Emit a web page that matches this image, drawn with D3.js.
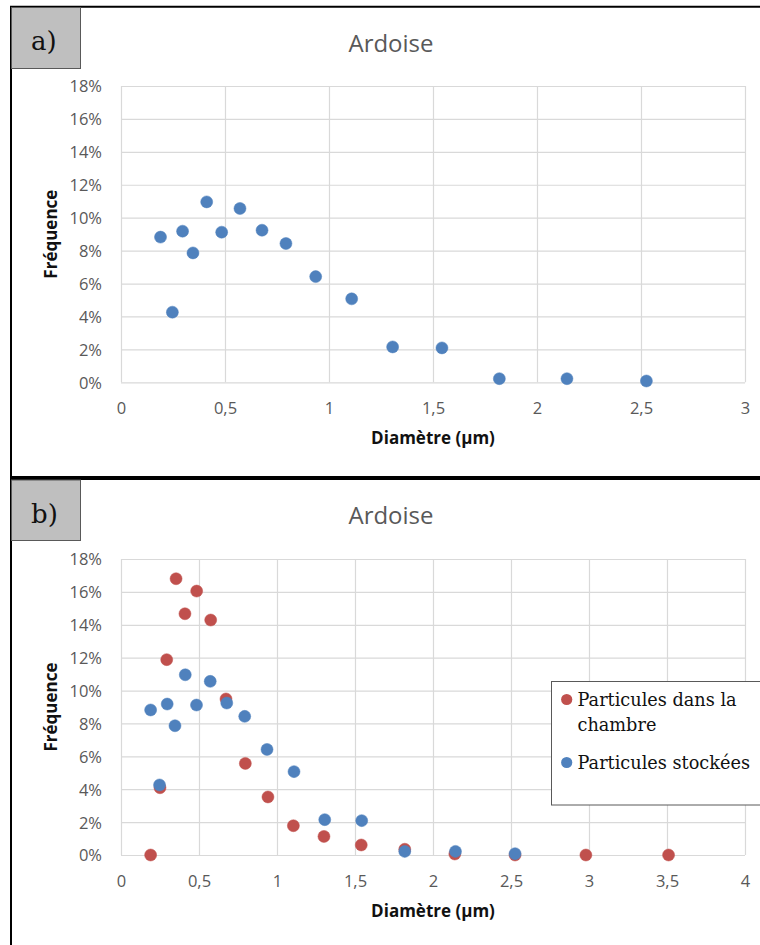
<!DOCTYPE html>
<html>
<head>
<meta charset="utf-8">
<script src="https://cdn.jsdelivr.net/npm/d3@7"></script>
<style>
  html, body { margin: 0; padding: 0; background: #ffffff; }
  svg { display: block; }
</style>
</head>
<body>
<svg id="chart" width="760" height="945"></svg>
<script>
// ---------- DATA ----------
const chartTitle = "Ardoise";
const xAxisTitle = "Diamètre (µm)";
const yAxisTitle = "Fréquence";
const seriesNames = ["Particules dans la chambre", "Particules stockées"];

// Particules stockées (panel a and b)
const diamStored = [0.19, 0.247, 0.296, 0.346, 0.412, 0.484, 0.572, 0.678, 0.793, 0.936, 1.109, 1.306, 1.543, 1.819, 2.144, 2.526];
const freqStored = [8.82, 4.26, 9.18, 7.86, 10.96, 9.12, 10.56, 9.24, 8.43, 6.42, 5.07, 2.15, 2.09, 0.22, 0.22, 0.08];

// Particules dans la chambre (panel b)
const diamChamber = [0.19, 0.25, 0.293, 0.353, 0.41, 0.485, 0.575, 0.673, 0.797, 0.942, 1.105, 1.301, 1.54, 1.819, 2.14, 2.526, 2.98, 3.51];
const freqChamber = [0, 4.09, 11.88, 16.8, 14.67, 16.05, 14.29, 9.49, 5.57, 3.53, 1.78, 1.13, 0.61, 0.35, 0.06, 0, 0, 0];

const yTicks = [0, 2, 4, 6, 8, 10, 12, 14, 16, 18];
const xTicksA = [0, 0.5, 1, 1.5, 2, 2.5, 3];
const xTicksB = [0, 0.5, 1, 1.5, 2, 2.5, 3, 3.5, 4];
const panelLabels = ["a)", "b)"];

// ---------- STYLE ----------
const blue = "#4f81bd";
const red = "#c0504d";
const gridColor = "#d9d9d9";
const tickColor = "#595959";
const sansFont = "'Open Sans', 'Noto Sans', sans-serif";
const serifFont = "'DejaVu Serif', serif";

const svg = d3.select("#chart");

const fmtX = v => d3.format("~g")(v).replace(".", ",");
const fmtY = v => v + "%";

function toPoints(xs, ys) { return xs.map((d, i) => ({ x: d, y: ys[i] })); }

function drawPanel(cfg) {
  const { top, bottom, left, right, xMax, xTicks, series, titleY, xLabelY, xTitleY } = cfg;
  const x = d3.scaleLinear().domain([0, xMax]).range([left, right]);
  const y = d3.scaleLinear().domain([0, 18]).range([bottom, top]);
  const g = svg.append("g");

  // horizontal gridlines + y labels
  const yAx = g.append("g").attr("transform", `translate(${left},0)`)
    .call(d3.axisLeft(y).tickValues(yTicks).tickFormat(fmtY).tickSize(-(right - left)).tickPadding(19));
  yAx.select(".domain").remove();
  yAx.selectAll(".tick line").attr("stroke", gridColor).attr("stroke-width", 1.2);
  yAx.selectAll(".tick text").attr("fill", tickColor).attr("font-family", sansFont)
    .attr("font-size", 16.5).attr("dy", "0.36em");

  // vertical gridlines + x labels
  const xAx = g.append("g").attr("transform", `translate(0,${bottom})`)
    .call(d3.axisBottom(x).tickValues(xTicks).tickFormat(fmtX).tickSize(-(bottom - top)));
  xAx.select(".domain").remove();
  xAx.selectAll(".tick line").attr("stroke", gridColor).attr("stroke-width", 1.2);
  xAx.selectAll(".tick text").attr("fill", tickColor).attr("font-family", sansFont)
    .attr("font-size", 16.5).attr("y", xLabelY - bottom).attr("dy", null);

  // series
  series.forEach(s => {
    g.append("g").selectAll("circle").data(s.points).join("circle")
      .attr("cx", d => x(d.x)).attr("cy", d => y(d.y)).attr("r", 6)
      .attr("fill", s.color).attr("stroke", s.color).attr("stroke-width", 0.5);
  });

  // title
  g.append("text").attr("x", 391).attr("y", titleY).attr("text-anchor", "middle")
    .attr("font-family", sansFont).attr("font-size", 24).attr("fill", tickColor).text(chartTitle);
  // axis titles
  g.append("text").attr("x", (left + right) / 2).attr("y", xTitleY).attr("text-anchor", "middle")
    .attr("font-family", sansFont).attr("font-weight", "bold").attr("font-size", 17).attr("fill", "#111")
    .text(xAxisTitle);
  g.append("text").attr("transform", `translate(57,${(top + bottom) / 2}) rotate(-90)`)
    .attr("text-anchor", "middle")
    .attr("font-family", sansFont).attr("font-weight", "bold").attr("font-size", 17).attr("fill", "#111")
    .text(yAxisTitle);
  return { x, y };
}

// Panel a
drawPanel({
  top: 86, bottom: 382.3, left: 121, right: 745, xMax: 3, xTicks: xTicksA,
  series: [{ points: toPoints(diamStored, freqStored), color: blue }],
  titleY: 52, xLabelY: 414, xTitleY: 444
});

// Panel b
drawPanel({
  top: 559, bottom: 855, left: 121, right: 745, xMax: 4, xTicks: xTicksB,
  series: [
    { points: toPoints(diamChamber, freqChamber), color: red },
    { points: toPoints(diamStored, freqStored), color: blue }
  ],
  titleY: 524, xLabelY: 887, xTitleY: 917
});

// Legend (panel b)
const lg = svg.append("g");
lg.append("rect").attr("x", 551.5).attr("y", 681.5).attr("width", 230).attr("height", 123.5)
  .attr("fill", "#ffffff").attr("stroke", "#595959").attr("stroke-width", 1);
const legendItems = [
  { lines: ["Particules dans la", "chambre"], color: red, cy: 699.5, base: 706 },
  { lines: ["Particules stockées"], color: blue, cy: 762.5, base: 769 }
];
legendItems.forEach(it => {
  lg.append("circle").attr("cx", 566.7).attr("cy", it.cy).attr("r", 5.6).attr("fill", it.color);
  it.lines.forEach((ln, i) => {
    lg.append("text").attr("x", 577.5).attr("y", it.base + i * 25)
      .attr("font-family", serifFont).attr("font-size", 17.7).attr("fill", "#111").text(ln);
  });
});

// Frame
const fr = svg.append("g");
fr.append("line").attr("x1", 11).attr("x2", 11).attr("y1", 6).attr("y2", 945).attr("stroke", "#000").attr("stroke-width", 2);
fr.append("line").attr("x1", 10).attr("x2", 760).attr("y1", 6.8).attr("y2", 6.8).attr("stroke", "#000").attr("stroke-width", 2);
fr.append("line").attr("x1", 10).attr("x2", 760).attr("y1", 478).attr("y2", 478).attr("stroke", "#000").attr("stroke-width", 4);

// Panel label boxes
const boxes = [{ y: 7.5, h: 61, base: 49.5 }, { y: 480, h: 60.5, base: 522.5 }];
boxes.forEach((b, i) => {
  fr.append("rect").attr("x", 11.5).attr("y", b.y).attr("width", 69).attr("height", b.h)
    .attr("fill", "#bfbfbf").attr("stroke", "#595959").attr("stroke-width", 1);
  fr.append("text").attr("x", 31).attr("y", b.base).attr("font-family", serifFont)
    .attr("font-size", 26).attr("fill", "#111").text(panelLabels[i]);
});
</script>
</body>
</html>
